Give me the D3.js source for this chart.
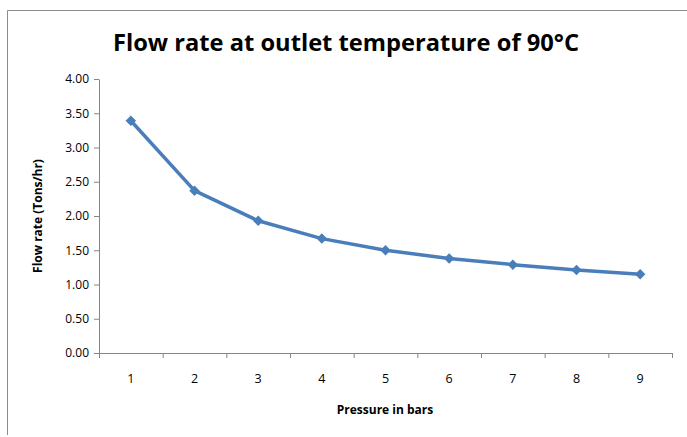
<!DOCTYPE html>
<html>
<head>
<meta charset="utf-8">
<script src="https://d3js.org/d3.v7.min.js"></script>
<style>
  body { margin: 0; background: #fff; }
  svg { display: block; font-family: "Open Sans", "Noto Sans", sans-serif; }
</style>
</head>
<body>
<svg id="chart" width="687" height="437"></svg>
<script>
// pressure categories and flow rate readings
var pressures = ["1", "2", "3", "4", "5", "6", "7", "8", "9"];
var flowRates = [3.39, 2.37, 1.93, 1.67, 1.50, 1.38, 1.29, 1.21, 1.15];
var yTicks = [0, 0.5, 1, 1.5, 2, 2.5, 3, 3.5, 4];

var svg = d3.select("#chart");
var axisColor = "#868686",
    lineColor = "#4a7ebb";

// chart area frame (only top and left visible in the crop)
svg.append("path")
   .attr("d", "M7.5,435 V10.5 H690")
   .attr("fill", "none")
   .attr("stroke", "#8c8c8c")
   .attr("stroke-width", 1);

svg.append("text")
   .attr("x", 346)
   .attr("y", 51)
   .attr("text-anchor", "middle")
   .attr("font-size", "23px")
   .attr("font-weight", "bold")
   .attr("textLength", 466)
   .attr("lengthAdjust", "spacingAndGlyphs")
   .text("Flow rate at outlet temperature of 90°C");

var plotL = 99, plotR = 672, plotT = 79, plotB = 353;

var xScale = d3.scaleBand().domain(pressures).range([plotL, plotR]);
var yScale = d3.scaleLinear().domain([0, 4]).range([plotB, plotT]);

// y axis
var yAxis = svg.append("g")
   .attr("transform", "translate(" + plotL + ",0)")
   .call(d3.axisLeft(yScale).tickValues(yTicks).tickFormat(d3.format(".2f")).tickSize(5).tickSizeOuter(0));
yAxis.select(".domain").attr("stroke", axisColor);
yAxis.selectAll(".tick line").attr("stroke", axisColor);
yAxis.selectAll(".tick text")
     .attr("x", -10)
     .attr("font-size", "12px")
     .attr("fill", "#000")
     .attr("font-family", "'Open Sans', sans-serif");

// x axis: ticks at band edges like Excel
var xAxis = svg.append("g")
   .attr("transform", "translate(0," + plotB + ")")
   .call(d3.axisBottom(xScale).tickSize(0).tickSizeOuter(0));
xAxis.select(".domain").attr("stroke", axisColor);
xAxis.selectAll(".tick text")
     .attr("y", 21)
     .attr("font-size", "12.5px")
     .attr("fill", "#000")
     .attr("font-family", "'Open Sans', sans-serif");
var edges = pressures.map(function(p) { return xScale(p); }).concat([plotR]);
xAxis.selectAll(".edge")
     .data(edges)
     .enter().append("line")
     .attr("x1", function(d) { return d + 0.5; })
     .attr("x2", function(d) { return d + 0.5; })
     .attr("y1", 0)
     .attr("y2", 5)
     .attr("stroke", axisColor);

// axis titles
svg.append("text")
   .attr("transform", "translate(42,216) rotate(-90)")
   .attr("text-anchor", "middle")
   .attr("font-size", "12px")
   .attr("font-weight", "bold")
   .text("Flow rate (Tons/hr)");

svg.append("text")
   .attr("x", 385)
   .attr("y", 414)
   .attr("text-anchor", "middle")
   .attr("font-size", "12px")
   .attr("font-weight", "bold")
   .text("Pressure in bars");

// series
var points = pressures.map(function(p, i) { return { p: p, v: flowRates[i] }; });
var cx = function(d) { return xScale(d.p) + xScale.bandwidth() / 2; };

svg.append("path")
   .datum(points)
   .attr("fill", "none")
   .attr("stroke", lineColor)
   .attr("stroke-width", 3.5)
   .attr("stroke-linejoin", "round")
   .attr("d", d3.line().x(cx).y(function(d) { return yScale(d.v); }));

svg.selectAll(".marker")
   .data(points)
   .enter().append("path")
   .attr("class", "marker")
   .attr("transform", function(d) { return "translate(" + cx(d) + "," + yScale(d.v) + ")"; })
   .attr("d", d3.symbol().type(d3.symbolDiamond2).size(70))
   .attr("fill", lineColor);
</script>
</body>
</html>
